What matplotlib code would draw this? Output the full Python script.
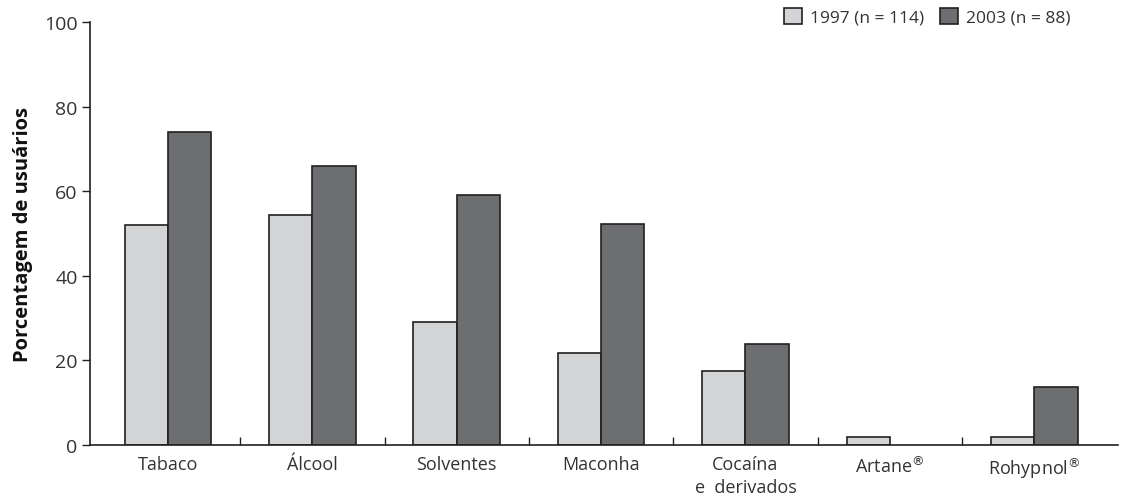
import numpy as np
import matplotlib.pyplot as plt

plt.rcParams['font.family'] = ['Open Sans', 'DejaVu Sans']

# data
categories = ['Tabaco', 'Álcool', 'Solventes', 'Maconha', 'Cocaína\ne  derivados',
              'Artane$^{\\circledR}$', 'Rohypnol$^{\\circledR}$']
users_1997 = [52.1, 54.3, 29.1, 21.7, 17.5, 2.0, 2.0]
users_2003 = [74.0, 65.9, 59.0, 52.2, 23.9, 0.0, 13.6]
series_labels = ['1997 (n = 114)', '2003 (n = 88)']
y_ticks = [0, 20, 40, 60, 80, 100]

light = '#d3d4d6'
dark = '#6d6e70'
edge = '#231f20'

fig = plt.figure(figsize=(11.32, 5.02), dpi=100)
ax = fig.add_axes([90 / 1132, 56 / 502, 1028 / 1132, 423 / 502])

x = np.arange(len(categories))
w = 0.3
b1 = ax.bar(x - w / 2, users_1997, w, color=light, edgecolor=edge, linewidth=1.2,
            label=series_labels[0])
b2 = ax.bar(x + w / 2, users_2003, w, color=dark, edgecolor=edge, linewidth=1.2,
            label=series_labels[1])
# hide the empty 2003 bar outline for Artane
for rect, v in zip(b2, users_2003):
    if v == 0:
        rect.set_visible(False)

ax.set_xlim(-0.54, 6.58)
ax.set_ylim(0, 100)
ax.set_yticks(y_ticks)
ax.tick_params(axis='y', direction='out', length=6, width=1, color=edge,
               labelsize=14, labelcolor='#333333', pad=3)

ax.set_xticks(x)
ax.set_xticklabels(categories, fontsize=13, color='#333333', linespacing=1.35)
ax.tick_params(axis='x', which='major', length=0, pad=7)
ax.set_xticks(np.arange(0.5, len(categories) - 1, 1), minor=True)
ax.tick_params(axis='x', which='minor', direction='in', length=6, width=1, color=edge)

for s in ['top', 'right']:
    ax.spines[s].set_visible(False)
for s in ['left', 'bottom']:
    ax.spines[s].set_color(edge)
    ax.spines[s].set_linewidth(1.2)

ax.set_ylabel('Porcentagem de usuários', fontsize=14.5, fontweight='bold', color='#111111',
              labelpad=8)

fig.legend(handles=[b1, b2], labels=series_labels, loc='upper left',
           bbox_to_anchor=(784 / 1132, 1 - 9 / 502), ncol=2, frameon=False, fontsize=12.5,
           handlelength=1.05, handleheight=1.05, handletextpad=0.45, columnspacing=0.9,
           borderpad=0, borderaxespad=0, labelcolor='#333333')

fig.savefig('out.png', dpi=100)
